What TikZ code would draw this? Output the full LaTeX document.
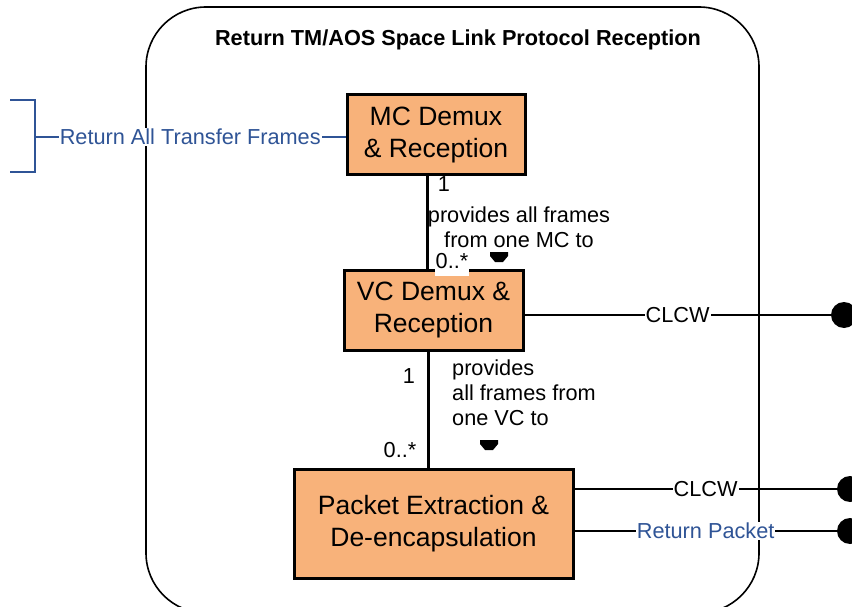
\documentclass[tikz,border=0pt]{standalone}
\usepackage{fontspec}
\setmainfont{Liberation Sans}
\definecolor{boxfill}{RGB}{248,178,122}
\definecolor{lblue}{RGB}{47,84,150}
\begin{document}
\begin{tikzpicture}[x=1pt,y=-1pt,
  block/.style={draw=black,line width=3pt,fill=boxfill,align=center,inner sep=0pt,
    font=\fontsize{26.5}{32}\selectfont},
  lbl/.style={fill=white,inner sep=1pt,font=\fontsize{21.7}{25}\selectfont},
  plain/.style={inner sep=0pt,font=\fontsize{21.7}{25}\selectfont},
  endc/.style={circle,fill=black,minimum size=26pt,inner sep=0pt},
  thin/.style={line width=1.6pt},
  thickc/.style={line width=3pt}]
\useasboundingbox (0,0) rectangle (852,607);
\clip (0,0) rectangle (852,607);
% container
\draw[thin,rounded corners=60pt] (146,7) rectangle (759,613);
\node[font=\bfseries\fontsize{21.7}{25}\selectfont] (title) at (458,40) {Return TM/AOS Space Link Protocol Reception};
% coordinates
\coordinate (xa) at (427,0);
\coordinate (xb) at (428,0);
\coordinate (br) at (35,137);
\coordinate (brt) at (35,100);
\coordinate (brb) at (35,172);
\coordinate (brtl) at (10,100);
\coordinate (brbl) at (10,172);
% end circles
\node[endc] (e1) at (844,315) {};
\node[endc] (e2) at (850,489) {};
\node[endc] (e3) at (850,531) {};
% boxes
\node[block,minimum width=178pt,minimum height=80pt] (mc) at (436,135) {MC Demux\\\& Reception};
\node[block,minimum width=179pt,minimum height=80pt] (vc) at (433.5,310) {VC Demux \&\\Reception};
\node[block,minimum width=279pt,minimum height=109pt] (pe) at (433.5,523.5) {Packet Extraction \&\\De-encapsulation};
% bracket
\draw[lblue,thin] (brtl) -- (brt) -- (brb) -- (brbl);
\draw[lblue,thin] (br) -- node[lbl,text=lblue]{Return All Transfer Frames} (mc.west |- br);
% vertical connectors
\draw[thickc] (mc.south -| xa) -- (vc.north -| xa);
\draw[thickc] (vc.south -| xb) -- (pe.north -| xb);
% horizontal connectors
\draw[thin] (vc.east |- e1) -- node[lbl]{CLCW} (e1);
\draw[thin] (pe.east |- e2) -- node[lbl]{CLCW} (e2);
\draw[thin] (pe.east |- e3) -- node[lbl,text=lblue]{Return Packet} (e3);
% multiplicities and role texts
\node[plain] (m1) at (444,184) {1};
\node[plain,align=center] (t1) at (519,227) {provides all frames\\from one MC to};
\node[lbl,anchor=south,text depth=6pt] (m2) at (452,276) {0..*};
\fill[shift={(499,257)}] (-9,-5) -- (9,-5) -- (9,-1) -- (4,5) -- (-4,5) -- (-9,-1) -- cycle;
\node[plain] (m3) at (409,376) {1};
\node[plain,align=left,anchor=north west] (t2) at (452,360) {provides\\all frames from\\one VC to};
\node[plain] (m4) at (400,450) {0..*};
\fill[shift={(489,445)}] (-9,-5) -- (9,-5) -- (9,-1) -- (4,5) -- (-4,5) -- (-9,-1) -- cycle;
\end{tikzpicture}
\end{document}
